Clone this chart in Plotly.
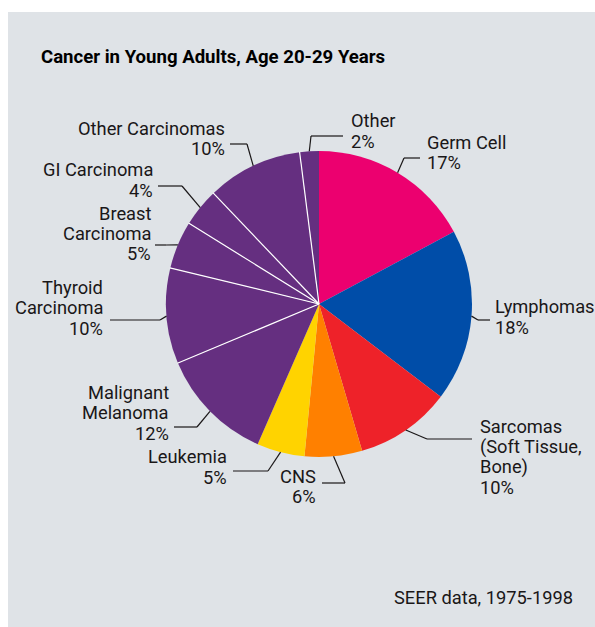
import math
import plotly.graph_objects as go

# ---- data ----
categories = ["Germ Cell", "Lymphomas", "Sarcomas (Soft Tissue, Bone)", "CNS", "Leukemia",
              "Malignant Melanoma", "Thyroid Carcinoma", "Breast Carcinoma", "GI Carcinoma",
              "Other Carcinomas", "Other"]
values = [17, 18, 10, 6, 5, 12, 10, 5, 4, 10, 2]
label_lines = [
    ["Germ Cell", "17%"],
    ["Lymphomas", "18%"],
    ["Sarcomas", "(Soft Tissue,", "Bone)", "10%"],
    ["CNS", "6%"],
    ["Leukemia", "5%"],
    ["Malignant", "Melanoma", "12%"],
    ["Thyroid", "Carcinoma", "10%"],
    ["Breast", "Carcinoma", "5%"],
    ["GI Carcinoma", "4%"],
    ["Other Carcinomas", "10%"],
    ["Other", "2%"],
]
colors = ["#EC006F", "#004DA8", "#EE2229", "#FF8000", "#FFD300",
          "#652F80", "#652F80", "#652F80", "#652F80", "#652F80", "#652F80"]
title = "Cancer in Young Adults, Age 20-29 Years"
source = "SEER data, 1975-1998"

# ---- layout geometry (pixels) ----
W, H = 595, 627
CX, CY, R = 319, 304, 153
FONT = "Roboto, Arial, sans-serif"
TXT = "#1A1718"
FS = 18.3
LS = 20.5

def px(x):
    return x / W

def py(y):
    return 1 - y / H

# label placement: (text x, xanchor, first-line center y, elbow, end)
placements = [
    (425, "left", 142, (404, 158), (420, 158)),
    (493, "left", 307, (478, 320), (490, 320)),
    (478, "left", 426, (427, 439), (472, 439)),
    (318, "right", 476, (345, 483), (322, 483)),
    (229, "right", 457, (268, 471), (233, 471)),
    (171, "right", 392, (197, 427), (174, 427)),
    (105, "right", 287, (160, 320), (110, 320)),
    (153, "right", 213, (166, 245), (155, 245)),
    (155, "right", 170, (182, 186), (158, 186)),
    (227, "right", 128, (247, 144), (230, 144)),
    (349, "left", 121, (311, 136), (343, 136)),
]

fig = go.Figure()
fig.add_trace(go.Pie(
    labels=categories, values=values, sort=False, direction="clockwise", rotation=0,
    marker=dict(colors=colors, line=dict(width=0)),
    textinfo="none", hoverinfo="label+percent", showlegend=False,
    domain=dict(x=[px(CX - R), px(CX + R)], y=[py(CY + R), py(CY - R)]),
))

shapes = []
# gray panel
shapes.append(dict(type="rect", xref="paper", yref="paper", x0=px(8), x1=1, y0=0, y1=py(12),
                   fillcolor="#DFE3E7", line=dict(width=0), layer="below"))

total = sum(values)
cum = 0
mids = []
ends = []
for v in values:
    mids.append((cum + v / 2) / total * 2 * math.pi)
    cum += v
    ends.append(cum / total * 2 * math.pi)

def edge(a, r=R):
    return CX + r * math.sin(a), CY - r * math.cos(a)

# white separators between adjacent purple slices
for i in range(len(values) - 1):
    if colors[i] == colors[i + 1]:
        x1, y1 = edge(ends[i], R + 0.5)
        shapes.append(dict(type="line", xref="paper", yref="paper",
                           x0=px(CX), y0=py(CY), x1=px(x1), y1=py(y1),
                           line=dict(color="white", width=1.2), layer="above"))

annotations = []
for i, (tx, anchor, y0, elbow, end) in enumerate(placements):
    sx, sy = edge(mids[i])
    pts = [(sx, sy), elbow, end]
    for (ax, ay), (bx, by) in zip(pts[:-1], pts[1:]):
        shapes.append(dict(type="line", xref="paper", yref="paper",
                           x0=px(ax), y0=py(ay), x1=px(bx), y1=py(by),
                           line=dict(color=TXT, width=1.2)))
    for k, line in enumerate(label_lines[i]):
        annotations.append(dict(text=line, xref="paper", yref="paper",
                                x=px(tx), y=py(y0 + k * LS), xanchor=anchor, yanchor="middle",
                                showarrow=False, font=dict(family=FONT, size=FS, color=TXT)))

annotations.append(dict(text="<b>" + title + "</b>", xref="paper", yref="paper",
                        x=px(39), y=py(57), xanchor="left", yanchor="middle", showarrow=False,
                        font=dict(family=FONT, size=18.6, color="#000000")))
annotations.append(dict(text=source, xref="paper", yref="paper",
                        x=px(575), y=py(597), xanchor="right", yanchor="middle", showarrow=False,
                        font=dict(family=FONT, size=FS, color=TXT)))

fig.update_layout(width=W, height=H, autosize=False, margin=dict(l=0, r=0, t=0, b=0),
                  paper_bgcolor="white", plot_bgcolor="white",
                  shapes=shapes, annotations=annotations)
fig.write_html("out.html", config={"displayModeBar": False})

# remove the default page margin so the figure sits at the window's top-left corner
with open("out.html", "r", encoding="utf-8") as f:
    html = f.read()
html = html.replace("<body>", '<body style="margin:0;padding:0;">', 1)
with open("out.html", "w", encoding="utf-8") as f:
    f.write(html)
